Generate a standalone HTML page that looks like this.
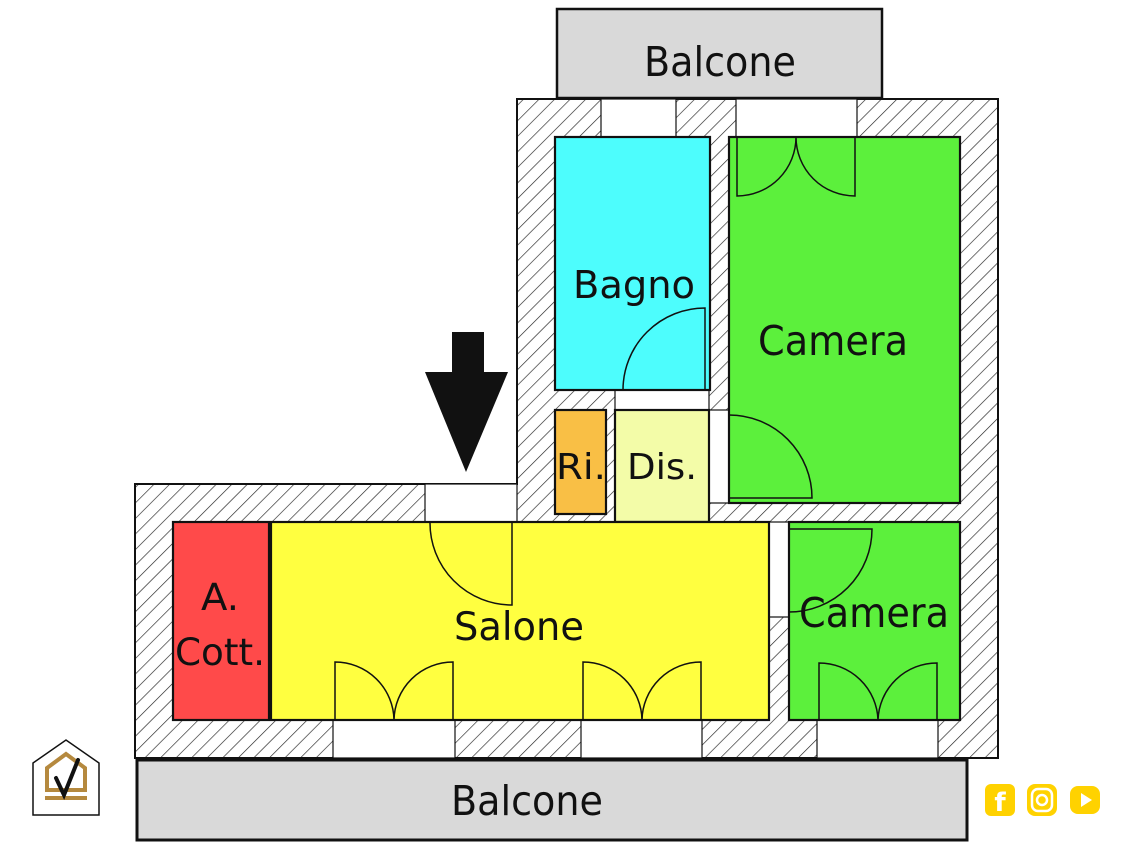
<!DOCTYPE html>
<html><head><meta charset="utf-8"><style>
html,body{margin:0;padding:0;background:#fff;width:1133px;height:850px;overflow:hidden}
svg{display:block}
text{font-family:"DejaVu Sans","Liberation Sans",sans-serif;fill:#111}
</style></head><body>
<svg width="1133" height="850" viewBox="0 0 1133 850" xmlns="http://www.w3.org/2000/svg">
<defs>
<pattern id="h" patternUnits="userSpaceOnUse" width="11" height="11" patternTransform="rotate(45)">
<rect width="11" height="11" fill="#fff"/><line x1="0" y1="0" x2="0" y2="11" stroke="#222" stroke-width="1.3"/>
</pattern>
</defs>
<!-- balconies -->
<rect x="557" y="9" width="325" height="89" fill="#d9d9d9" stroke="#111" stroke-width="2.5"/>
<rect x="137" y="760" width="830" height="80" fill="#d9d9d9" stroke="#111" stroke-width="3"/>
<!-- walls -->
<polygon points="517,99 998,99 998,758 135,758 135,484 517,484" fill="url(#h)" stroke="#111" stroke-width="2"/>
<!-- openings -->
<g fill="#fff" stroke="#111" stroke-width="1.2">
<rect x="601" y="99" width="75" height="38"/>
<rect x="736" y="99" width="121" height="38"/>
<rect x="425" y="484" width="92" height="38"/>
<rect x="333" y="720" width="122" height="38"/>
<rect x="581" y="720" width="121" height="38"/>
<rect x="817" y="720" width="121" height="38"/>
<rect x="615" y="390" width="94" height="20"/>
<rect x="709" y="410" width="20" height="93"/>
<rect x="769" y="522" width="20" height="95"/>
</g>
<!-- rooms -->
<g stroke="#111" stroke-width="2.2">
<rect x="555" y="137" width="155" height="253" fill="#4dfdfd"/>
<rect x="729" y="137" width="231" height="366" fill="#5cf03c"/>
<rect x="555" y="410" width="51" height="104" fill="#f9bf45"/>
<rect x="615" y="410" width="94" height="112" fill="#f3fca8"/>
<rect x="173" y="522" width="96" height="198" fill="#ff4a4a"/>
<rect x="271" y="522" width="498" height="198" fill="#ffff40"/>
<rect x="789" y="522" width="171" height="198" fill="#5cf03c"/>
</g>
<!-- doors -->
<g fill="none" stroke="#111" stroke-width="1.5">
<path d="M705,390 V308 A82,82 0 0 0 623,390"/>
<path d="M729,498 H812 A83,83 0 0 0 729,415"/>
<path d="M512,522 V605 A82,82 0 0 1 430,522"/>
<path d="M789,529 H872 A83,83 0 0 1 789,612"/>
<path d="M737,137 V196 A59,59 0 0 0 796,137 A59,59 0 0 0 855,196 V137"/>
<path d="M335,720 V662 A59,59 0 0 1 394,720 A59,59 0 0 1 453,662 V720"/>
<path d="M583,720 V662 A59,59 0 0 1 642,720 A59,59 0 0 1 701,662 V720"/>
<path d="M819,720 V663 A59,59 0 0 1 878,720 A59,59 0 0 1 937,663 V720"/>
</g>
<!-- arrow -->
<polygon points="452,332 484,332 484,372 508,372 466,472 425,372 452,372" fill="#111"/>
<!-- labels -->
<text x="720" y="76" font-size="41" text-anchor="middle" textLength="152" lengthAdjust="spacingAndGlyphs">Balcone</text>
<text x="527" y="815" font-size="41" text-anchor="middle" textLength="152" lengthAdjust="spacingAndGlyphs">Balcone</text>
<text x="634" y="298" font-size="38" text-anchor="middle" textLength="122" lengthAdjust="spacingAndGlyphs">Bagno</text>
<text x="833" y="355" font-size="41" text-anchor="middle" textLength="150" lengthAdjust="spacingAndGlyphs">Camera</text>
<text x="874" y="627" font-size="41" text-anchor="middle" textLength="150" lengthAdjust="spacingAndGlyphs">Camera</text>
<text x="581" y="479" font-size="36" text-anchor="middle" textLength="50" lengthAdjust="spacingAndGlyphs">Ri.</text>
<text x="662" y="479" font-size="36" text-anchor="middle" textLength="70" lengthAdjust="spacingAndGlyphs">Dis.</text>
<text x="519" y="640" font-size="39" text-anchor="middle" textLength="130" lengthAdjust="spacingAndGlyphs">Salone</text>
<text x="220" y="610" font-size="37" text-anchor="middle" textLength="38" lengthAdjust="spacingAndGlyphs">A.</text>
<text x="220" y="665" font-size="37" text-anchor="middle" textLength="90" lengthAdjust="spacingAndGlyphs">Cott.</text>
<!-- logo -->
<path d="M33,763 L66,740 L99,763 V815 H33 Z" fill="#fff" stroke="#111" stroke-width="1.5"/>
<path d="M47,790 V768 L66,754 L85,768 V790 Z" fill="none" stroke="#b5893e" stroke-width="4"/>
<rect x="45" y="796" width="42" height="4" fill="#b5893e"/>
<path d="M56,778 L64,795 L78,760" fill="none" stroke="#111" stroke-width="4" stroke-linecap="round"/>
<!-- social -->
<rect x="985" y="784" width="30" height="32" rx="6" fill="#ffd200"/>
<text x="1000" y="811" font-size="26" font-weight="bold" text-anchor="middle" style="fill:#fff">f</text>
<rect x="1027" y="784" width="30" height="32" rx="8" fill="#ffd200"/>
<rect x="1032" y="789" width="20" height="22" rx="6" fill="none" stroke="#fff" stroke-width="2.5"/>
<circle cx="1042" cy="800" r="5" fill="none" stroke="#fff" stroke-width="2.5"/>
<rect x="1070" y="786" width="30" height="28" rx="8" fill="#ffd200"/>
<polygon points="1081,793 1092,800 1081,807" fill="#fff"/>
</svg>
</body></html>
